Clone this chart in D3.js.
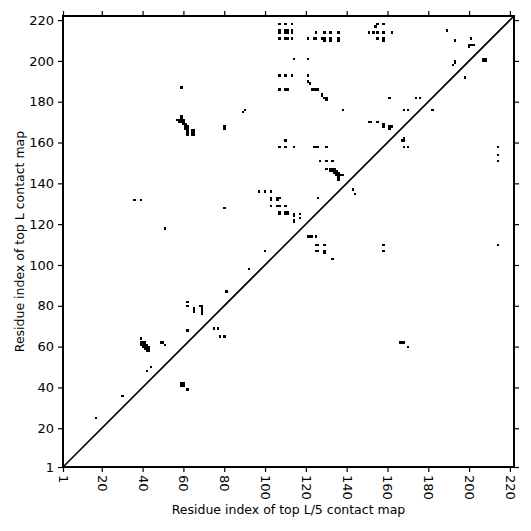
<!DOCTYPE html>
<html><head><meta charset="utf-8">
<script src="https://cdn.jsdelivr.net/npm/d3@7"></script>
<style>body{margin:0;background:#fff}svg{display:block}text{font-family:"DejaVu Sans",sans-serif;fill:#000}</style>
</head><body>
<script>
const xTicks = [1,20,40,60,80,100,120,140,160,180,200,220];
const yTicks = [1,20,40,60,80,100,120,140,160,180,200,220];
const domainMax = 222;
const xLabel = "Residue index of top L/5 contact map";
const yLabel = "Residue index of top L contact map";
// contacts as [x (top L/5 map), y (top L map)]
const contacts = [
 [17,25],[30,36],[36,132],[39,132],[51,118],
 [62,82],[62,80],[65,79],[65,78],[65,77],[68,80],[69,80],[69,79],[69,78],[69,77],[69,76],
 [62,68],[75,69],[77,69],[78,65],[80,65],
 [39,64],[39,62],[40,62],[41,62],[39,61],[40,61],[41,61],[42,61],[40,60],[41,60],[42,60],[43,60],[41,59],[42,59],[43,59],[42,58],[43,58],
 [49,62],[50,62],[51,61],[44,50],[42,48],
 [59,42],[60,42],[59,41],[60,41],[62,39],
 [59,187],[59,173],[59,172],[57,171],[58,171],[59,171],[60,171],[58,170],[59,170],[60,170],[60,169],[61,169],[61,168],[62,168],[61,167],[62,167],[62,166],[62,165],[62,164],
 [64,166],[65,166],[64,165],[65,165],[64,164],[65,164],
 [80,168],[80,167],[89,175],[90,176],[80,128],[81,87],[92,98],[100,107],
 [97,136],[100,136],[103,136],[103,133],[103,132],[106,133],[107,133],[106,132],[126,133],
 [103,129],[106,129],[107,129],[110,129],
 [107,126],[107,125],[110,126],[111,126],[110,125],[111,125],[114,125],[114,124],[117,125],[117,123],[114,122],[114,121],
 [121,114],[122,114],[123,114],[125,114],[125,110],[126,110],[129,110],[125,107],[126,107],[129,107],[129,106],[133,103],
 [110,161],[107,158],[110,158],[114,158],[124,158],[125,158],[126,158],[130,158],
 [127,151],[130,151],[133,151],
 [130,147],[132,147],[133,147],[134,147],[132,146],[133,146],[134,146],[135,146],[134,145],[135,145],[136,145],[135,144],[136,144],[137,144],[138,144],[136,143],[136,142],
 [143,137],[144,135],[138,176],
 [107,218],[110,218],[113,218],
 [107,215],[107,214],[110,215],[111,215],[110,214],[111,214],[113,215],[113,214],
 [107,211],[110,211],[111,211],[113,211],
 [121,211],[124,211],[125,211],[128,211],[129,211],[129,210],[132,211],[132,210],[136,211],[136,210],
 [125,214],[129,214],[132,214],[136,214],
 [114,201],[121,201],[107,193],[110,193],[113,193],[121,193],[121,190],[122,189],
 [107,186],[110,186],[111,186],[123,186],[124,186],[125,186],[126,186],
 [128,184],[128,183],[129,182],[130,182],[130,181],
 [154,217],[155,218],[158,218],[151,214],[153,214],[155,214],[158,214],[162,214],
 [155,211],[158,211],[158,210],
 [151,170],[152,170],[155,170],[158,169],[158,168],[161,168],[162,168],[161,167],
 [161,182],[174,182],[176,182],[168,176],[170,176],[182,176],
 [167,161],[168,162],[168,161],[168,158],[170,158],
 [158,110],[158,107],[166,62],[167,62],[168,62],[170,60],
 [189,215],[193,210],[201,211],[200,208],[201,208],[202,208],[200,207],
 [193,200],[193,199],[192,198],[207,201],[208,201],[207,200],[208,200],[198,192],
 [214,158],[214,154],[214,151],[214,110]
];

const W = 531, H = 531;
const m = {left:63, right:514, top:16, bottom:467};
const svg = d3.select("body").append("svg").attr("width",W).attr("height",H);
const x = d3.scaleLinear().domain([1,domainMax]).range([m.left,m.right]);
const y = d3.scaleLinear().domain([1,domainMax]).range([m.bottom,m.top]);
const cell = x(2)-x(1);

// contacts
svg.append("g").attr("shape-rendering","crispEdges").selectAll("rect").data(contacts).join("rect")
  .attr("x",d=>x(d[0])-cell/2).attr("y",d=>y(d[1])-cell/2)
  .attr("width",cell+0.3).attr("height",cell+0.3).attr("fill","#000");

// diagonal
svg.append("line").attr("x1",x(1)).attr("y1",y(1)).attr("x2",x(domainMax)).attr("y2",y(domainMax))
  .attr("stroke","#000").attr("stroke-width",1.6);

// axes
const bottom = svg.append("g").attr("transform",`translate(0,${m.bottom})`)
  .call(d3.axisBottom(x).tickValues(xTicks).tickSize(5).tickPadding(4));
bottom.selectAll("text").style("text-anchor","start")
  .attr("y",null).attr("x",0).attr("dy","0.35em")
  .attr("transform","translate(0,8) rotate(90)");
svg.append("g").attr("transform",`translate(${m.left},0)`)
  .call(d3.axisLeft(y).tickValues(yTicks).tickSize(5).tickPadding(4));
svg.append("g").attr("transform",`translate(0,${m.top})`)
  .call(d3.axisTop(x).tickValues(xTicks).tickSize(5).tickFormat(""));
svg.append("g").attr("transform",`translate(${m.right},0)`)
  .call(d3.axisRight(y).tickValues(yTicks).tickSize(5).tickFormat(""));
svg.selectAll(".domain").remove();
svg.selectAll(".tick line").attr("stroke","#000").attr("stroke-width",1.2);
svg.selectAll(".tick text").style("font-size","13px").style("font-family","DejaVu Sans").attr("fill","#000");
svg.append("rect").attr("x",m.left).attr("y",m.top).attr("width",m.right-m.left).attr("height",m.bottom-m.top)
  .attr("fill","none").attr("stroke","#000").attr("stroke-width",2);

svg.append("text").attr("x",(m.left+m.right)/2).attr("y",514).attr("text-anchor","middle")
  .style("font-size","12.5px").text(xLabel);
svg.append("text").attr("transform",`translate(24,${(m.top+m.bottom)/2}) rotate(-90)`).attr("text-anchor","middle")
  .style("font-size","12.5px").text(yLabel);
</script>
</body></html>
